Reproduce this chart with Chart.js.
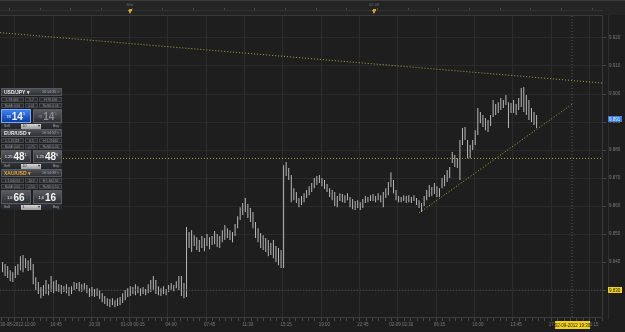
<!DOCTYPE html>
<html>
<head>
<meta charset="utf-8">
<script src="https://cdn.jsdelivr.net/npm/chart.js@4/dist/chart.umd.min.js"></script>
<style>
  html, body { margin: 0; padding: 0; background: #1e1e1e; }
  #wrap { position: relative; width: 625px; height: 332px; overflow: hidden; }
  canvas { position: absolute; left: 0; top: 0; }

  /* trading tickets on the left */
  .tk { position: absolute; left: 1px; width: 61px; font-family: "Liberation Sans", Arial, sans-serif; color: #c8c8c8; }
  .hd { height: 8px; background: linear-gradient(#4a4d53, #2f3237); border: 1px solid #56595f; box-sizing: border-box;
        display: flex; justify-content: space-between; align-items: center; padding: 0 2px; font-size: 5px; }
  .hd b { color: #e8e8e8; }
  .hd .gold { color: #e8a82a; }
  .hd span { font-size: 3.6px; color: #aaa; }
  .rw { height: 5px; display: flex; gap: 1px; margin-top: 1px; }
  .rw div { flex: 1; background: #2a2d32; border: 1px solid #44474c; box-sizing: border-box; font-size: 3.2px; color: #9a9a9a;
            display: flex; align-items: center; justify-content: center; white-space: nowrap; overflow: hidden; }
  .rw div.m { flex: 0.55; }
  .bg { height: 14px; display: flex; gap: 2px; margin-top: 1px; }
  .bt { flex: 1; border: 1px solid #5a5d63; box-sizing: border-box; background: linear-gradient(#585b61, #2c2f34);
        display: flex; align-items: center; justify-content: center; color: #f4f4f4; white-space: nowrap; }
  .bt.blue { background: linear-gradient(#3f82f2, #0c3da6); border-color: #78a8ff; }
  .bt.dim { color: #8c8c8c; }
  .bt i { font-style: normal; font-size: 4px; margin-right: 1px; }
  .bt b { font-size: 10px; }
  .bt sup { font-size: 4px; align-self: flex-start; margin-top: 1px; }
  .ft { height: 6px; display: flex; align-items: center; justify-content: space-between; padding: 0 3px;
        background: linear-gradient(#2e3136, #23262a); font-size: 3.6px; color: #aaa; }
  .ft .dd { width: 20px; height: 5px; background: linear-gradient(#d8d8d8, #9a9a9a); color: #222; font-size: 3.6px;
            display: flex; align-items: center; justify-content: space-between; padding: 0 1px; box-sizing: border-box; }
</style>
</head>
<body>
<div id="wrap">
  <canvas id="chart" width="625" height="332"></canvas>

  <div class="tk" style="top:88px">
    <div class="hd"><b>USD/JPY ▾</b><span>16:14:35 ×</span></div>
    <div class="rw"><div>L:78.065</div><div class="m">5.7</div><div>H:78.168</div></div>
    <div class="rw"><div>RoSE:0.06</div><div class="m">0.01</div><div>RoSD:0.06</div></div>
    <div class="bg">
      <div class="bt blue"><i>78</i><b>14</b><sup>5</sup></div>
      <div class="bt dim"><i>78</i><b>14</b><sup>5</sup></div>
    </div>
    <div class="ft"><span>Sell</span><div class="dd"><span>10</span><span>▾</span></div><span>Buy</span></div>
  </div>

  <div class="tk" style="top:129px">
    <div class="hd"><b>EUR/USD ▾</b><span>16:14:52 ×</span></div>
    <div class="rw"><div>L:1.25118</div><div class="m">0.5</div><div>H:1.25620</div></div>
    <div class="rw"><div>RoSE:0.06</div><div class="m">0.70</div><div>RoSD:0.06</div></div>
    <div class="bg" style="height:13px">
      <div class="bt"><i>1.25</i><b>48</b><sup>1</sup></div>
      <div class="bt"><i>1.25</i><b>48</b><sup>6</sup></div>
    </div>
    <div class="ft"><span>Sell</span><div class="dd"><span>10</span><span>▾</span></div><span>Buy</span></div>
  </div>

  <div class="tk" style="top:169px">
    <div class="hd"><b class="gold">XAU/USD ▾</b><span>16:14:39 ×</span></div>
    <div class="rw"><div>L:1,640.50</div><div class="m">20.5</div><div>H:1,662.50</div></div>
    <div class="rw"><div>RoSE:0.50</div><div class="m">0.50</div><div>RoSD:0.50</div></div>
    <div class="bg">
      <div class="bt"><i>1,6</i><b>66</b></div>
      <div class="bt"><i>1,6</i><b>16</b></div>
    </div>
    <div class="ft"><span>Sell</span><div class="dd"><span>1</span><span>▾</span></div><span>Buy</span></div>
  </div>
</div>

<script>
/* ── Data: 15-minute bars, bar 0 = first labelled tick ── */
const FIRST_BAR = -6;

const highs = [
  9.8400, 9.8393, 9.8386, 9.8371, 9.8364, 9.8386, 9.8393, 9.8421, 9.8425, 9.8414,
  9.8407, 9.8414, 9.8393, 9.8346, 9.8329, 9.8311, 9.8318, 9.8336, 9.8321, 9.8350,
  9.8332, 9.8336, 9.8321, 9.8318, 9.8314, 9.8321, 9.8311, 9.8314, 9.8329, 9.8325,
  9.8329, 9.8321, 9.8325, 9.8318, 9.8307, 9.8311, 9.8304, 9.8307, 9.8300, 9.8289,
  9.8279, 9.8271, 9.8268, 9.8271, 9.8264, 9.8271, 9.8275, 9.8289, 9.8300, 9.8307,
  9.8314, 9.8311, 9.8321, 9.8314, 9.8307, 9.8311, 9.8304, 9.8321, 9.8336, 9.8350,
  9.8336, 9.8314, 9.8307, 9.8314, 9.8304, 9.8318, 9.8325, 9.8318, 9.8332, 9.8350,
  9.8350, 9.8325, 9.8525, 9.8507, 9.8514, 9.8496, 9.8489, 9.8479, 9.8493, 9.8486,
  9.8500, 9.8489, 9.8493, 9.8511, 9.8500, 9.8493, 9.8514, 9.8532, 9.8521, 9.8514,
  9.8507, 9.8536, 9.8564, 9.8596, 9.8611, 9.8629, 9.8607, 9.8593, 9.8579, 9.8543,
  9.8521, 9.8504, 9.8496, 9.8486, 9.8479, 9.8468, 9.8479, 9.8457, 9.8450, 9.8443,
  9.8746, 9.8757, 9.8736, 9.8711, 9.8664, 9.8650, 9.8629, 9.8636, 9.8646, 9.8657,
  9.8671, 9.8682, 9.8700, 9.8707, 9.8711, 9.8700, 9.8693, 9.8679, 9.8664, 9.8657,
  9.8650, 9.8636, 9.8646, 9.8643, 9.8639, 9.8646, 9.8632, 9.8625, 9.8618, 9.8621,
  9.8614, 9.8625, 9.8636, 9.8632, 9.8639, 9.8643, 9.8636, 9.8646, 9.8639, 9.8650,
  9.8664, 9.8686, 9.8721, 9.8693, 9.8657, 9.8636, 9.8632, 9.8639, 9.8636, 9.8639,
  9.8632, 9.8639, 9.8629, 9.8621, 9.8611, 9.8636, 9.8657, 9.8675, 9.8668, 9.8682,
  9.8671, 9.8664, 9.8700, 9.8711, 9.8729, 9.8739, 9.8793, 9.8782, 9.8771, 9.8836,
  9.8879, 9.8882, 9.8836, 9.8818, 9.8836, 9.8871, 9.8950, 9.8936, 9.8925, 9.8914,
  9.8907, 9.8925, 9.8979, 9.8964, 9.8971, 9.8986, 9.8979, 9.8996, 9.8971, 9.8968,
  9.8979, 9.8964, 9.8986, 9.9021, 9.9025, 9.8996, 9.8979, 9.8950, 9.8936, 9.8925
];

const lows = [
  9.8364, 9.8350, 9.8343, 9.8332, 9.8329, 9.8343, 9.8354, 9.8371, 9.8364, 9.8379,
  9.8368, 9.8371, 9.8321, 9.8300, 9.8286, 9.8271, 9.8279, 9.8286, 9.8282, 9.8293,
  9.8289, 9.8296, 9.8293, 9.8286, 9.8293, 9.8289, 9.8279, 9.8286, 9.8300, 9.8304,
  9.8296, 9.8293, 9.8300, 9.8289, 9.8275, 9.8279, 9.8275, 9.8279, 9.8268, 9.8257,
  9.8250, 9.8243, 9.8239, 9.8246, 9.8239, 9.8243, 9.8246, 9.8254, 9.8264, 9.8275,
  9.8279, 9.8286, 9.8282, 9.8289, 9.8279, 9.8286, 9.8282, 9.8289, 9.8293, 9.8300,
  9.8286, 9.8282, 9.8279, 9.8286, 9.8282, 9.8293, 9.8300, 9.8296, 9.8307, 9.8300,
  9.8279, 9.8271, 9.8275, 9.8450, 9.8436, 9.8457, 9.8443, 9.8436, 9.8450, 9.8439,
  9.8457, 9.8446, 9.8461, 9.8464, 9.8454, 9.8450, 9.8471, 9.8479, 9.8486, 9.8479,
  9.8471, 9.8493, 9.8521, 9.8550, 9.8568, 9.8579, 9.8557, 9.8543, 9.8521, 9.8486,
  9.8471, 9.8450, 9.8443, 9.8436, 9.8421, 9.8425, 9.8414, 9.8400, 9.8389, 9.8379,
  9.8379, 9.8707, 9.8693, 9.8614, 9.8621, 9.8611, 9.8596, 9.8604, 9.8614, 9.8629,
  9.8639, 9.8650, 9.8664, 9.8675, 9.8682, 9.8671, 9.8661, 9.8650, 9.8632, 9.8621,
  9.8600, 9.8596, 9.8618, 9.8614, 9.8611, 9.8621, 9.8596, 9.8589, 9.8586, 9.8593,
  9.8586, 9.8593, 9.8611, 9.8614, 9.8618, 9.8618, 9.8614, 9.8621, 9.8614, 9.8596,
  9.8629, 9.8639, 9.8668, 9.8646, 9.8621, 9.8614, 9.8614, 9.8618, 9.8611, 9.8614,
  9.8611, 9.8618, 9.8604, 9.8593, 9.8579, 9.8600, 9.8621, 9.8632, 9.8636, 9.8643,
  9.8632, 9.8632, 9.8664, 9.8671, 9.8686, 9.8700, 9.8754, 9.8739, 9.8736, 9.8693,
  9.8818, 9.8836, 9.8771, 9.8771, 9.8800, 9.8818, 9.8854, 9.8896, 9.8882, 9.8871,
  9.8864, 9.8886, 9.8918, 9.8925, 9.8932, 9.8943, 9.8950, 9.8961, 9.8879, 9.8932,
  9.8932, 9.8925, 9.8943, 9.8954, 9.8936, 9.8925, 9.8907, 9.8900, 9.8889, 9.8879
];

const xLabels = [
  '30-08-2012 11:00', '16:45', '20:30', '01-09 00:15', '04:00', '07:45', '11:30', '15:15',
  '19:00', '22:45', '02-09 02:30', '06:15', '10:00', '13:45', '17:30', '21:15'
];
const BARS_PER_LABEL = 15;
const X_MIN = -7, X_MAX = 229;

const yTicks = [9.83, 9.84, 9.85, 9.86, 9.87, 9.88, 9.89, 9.90, 9.91, 9.92];
const Y_MIN = 9.8204, Y_MAX = 9.9282;

/* drawn lines: [bar, price] pairs */
const resistLine  = [[-7, 9.9219], [229, 9.9039]];
const levelLine   = [[-7, 9.8770], [229, 9.8770]];
const supportLine = [[157.1, 9.8576], [216.8, 9.8963]];

/* crosshair + last price */
const crossBar   = 216.9;
const crossPrice = 9.830;
const crossTime  = '02-09-2012 19:30';
const lastPrice  = 9.891;

/* event pins on the top ruler */
const pins = [[43.9, 'Mar'], [139.4, '02-09']];

/* ── Helpers ── */
const toXY = pts => pts.map(p => ({ x: p[0], y: p[1] }));
const FONT = '"Liberation Sans", Arial, sans-serif';

const bars = highs.map((h, i) => ({ x: FIRST_BAR + i, y: [lows[i], h] }));

const xTickValues = [];
for (let v = -5; v <= 227.5; v += 2.5) xTickValues.push(v);

function dotted(data, color) {
  return {
    type: 'line', data: toXY(data), borderColor: color, borderWidth: 1,
    borderDash: [1, 2], pointRadius: 0, fill: false, tension: 0, order: 0
  };
}

/* ── Frame / labels plugin ── */
const chrome = {
  id: 'chrome',
  beforeDraw(chart) {
    const c = chart.ctx, a = chart.chartArea;
    c.save();
    c.fillStyle = '#1e1e1e';
    c.fillRect(0, 0, chart.width, chart.height);
    /* top ruler strip */
    c.fillStyle = '#242424';
    c.fillRect(0, 0, chart.width, a.top);
    c.fillStyle = '#3a3a3a';
    c.fillRect(0, 0, chart.width, 1);
    c.fillStyle = '#333';
    c.fillRect(0, 10, a.right, 1);
    const x = chart.scales.x;
    c.fillStyle = '#4a4a4a';
    for (let b = -3.5; b < X_MAX; b += 12) c.fillRect(Math.round(x.getPixelForValue(b)), 8, 1, 2);
    c.restore();
  },
  afterDraw(chart) {
    const c = chart.ctx, a = chart.chartArea;
    const x = chart.scales.x, y = chart.scales.y;
    c.save();
    /* plot border */
    c.strokeStyle = '#3a3a3a';
    c.lineWidth = 1;
    c.strokeRect(a.left - 0.5, a.top + 0.5, a.right - a.left, a.bottom - a.top);
    c.strokeStyle = '#2e2e2e';
    c.beginPath(); c.moveTo(a.right + 5.5, a.top); c.lineTo(a.right + 5.5, a.bottom + 2); c.stroke();

    /* pins */
    pins.forEach(([b, txt]) => {
      const px = Math.round(x.getPixelForValue(b));
      c.fillStyle = '#d9a520';
      c.beginPath();
      c.moveTo(px - 2, 10); c.lineTo(px + 2, 10); c.lineTo(px, 14); c.closePath(); c.fill();
      c.fillRect(px - 1, 9, 3, 2);
      c.fillStyle = '#6c6c6c';
      c.font = `4px ${FONT}`;
      c.textAlign = 'center';
      c.textBaseline = 'middle';
      c.fillText(txt, px, 5);
    });

    c.font = `4.5px ${FONT}`;
    c.textBaseline = 'middle';
    /* last price (blue) */
    let py = Math.round(y.getPixelForValue(lastPrice));
    c.fillStyle = '#3b7fe0';
    c.fillRect(a.right + 5, py - 3, 14, 6);
    c.fillStyle = '#eaf2ff';
    c.textAlign = 'left';
    c.fillText(lastPrice.toFixed(3), a.right + 6, py + 0.5);

    /* crosshair price (yellow) */
    py = Math.round(y.getPixelForValue(crossPrice));
    c.fillStyle = '#f2d21b';
    c.fillRect(a.right + 5, py - 3, 14, 6);
    c.fillStyle = '#222';
    c.fillText(crossPrice.toFixed(3), a.right + 6, py + 0.5);

    /* crosshair time (yellow) */
    const px = x.getPixelForValue(crossBar);
    c.fillStyle = '#f2d21b';
    c.fillRect(px - 17, a.bottom + 4, 35, 8);
    c.fillStyle = '#222';
    c.textAlign = 'center';
    c.fillText(crossTime, px + 0.5, a.bottom + 8.5);
    c.restore();
  }
};

/* ── Chart ── */
new Chart(document.getElementById('chart'), {
  type: 'bar',
  data: {
    datasets: [
      {
        type: 'bar', data: bars, backgroundColor: '#b8b8b8', borderWidth: 0,
        barThickness: 1, inflateAmount: 0, grouped: false, order: 1
      },
      dotted(resistLine, 'rgba(196,190,70,0.85)'),
      dotted(levelLine, 'rgba(196,190,70,0.85)'),
      dotted(supportLine, 'rgba(196,190,70,0.85)'),
      dotted([[crossBar, Y_MIN], [crossBar, Y_MAX]], '#5a5a5a'),
      dotted([[X_MIN, crossPrice], [X_MAX, crossPrice]], '#4a4a4a')
    ]
  },
  options: {
    responsive: false,
    animation: false,
    devicePixelRatio: 1,
    layout: { padding: { top: 15, left: 0, right: 0, bottom: 0 } },
    plugins: { legend: { display: false }, tooltip: { enabled: false } },
    scales: {
      x: {
        type: 'linear', min: X_MIN, max: X_MAX, offset: false,
        afterFit: s => { s.height = 15; },
        afterBuildTicks: s => { s.ticks = xTickValues.map(v => ({ value: v })); },
        grid: {
          color: c => (c.tick && c.tick.value % BARS_PER_LABEL === 0) ? '#2c2c2c' : 'rgba(0,0,0,0)',
          tickColor: '#474747', tickLength: 4, drawTicks: true
        },
        border: { display: false },
        ticks: {
          autoSkip: false, maxRotation: 0, padding: 1, color: '#7c7c7c',
          font: { family: FONT, size: 4.5 },
          callback: v => (v >= 0 && v % BARS_PER_LABEL === 0) ? (xLabels[v / BARS_PER_LABEL] || '') : ''
        }
      },
      y: {
        position: 'right', min: Y_MIN, max: Y_MAX,
        afterFit: s => { s.width = 22; },
        afterBuildTicks: s => { s.ticks = yTicks.map(v => ({ value: v })); },
        grid: { color: '#2a2a2a', tickColor: '#474747', tickLength: 3 },
        border: { display: false },
        ticks: {
          color: '#7c7c7c', padding: 3, font: { family: FONT, size: 4.5 },
          callback: v => v.toFixed(3)
        }
      }
    }
  },
  plugins: [chrome]
});
</script>
</body>
</html>
